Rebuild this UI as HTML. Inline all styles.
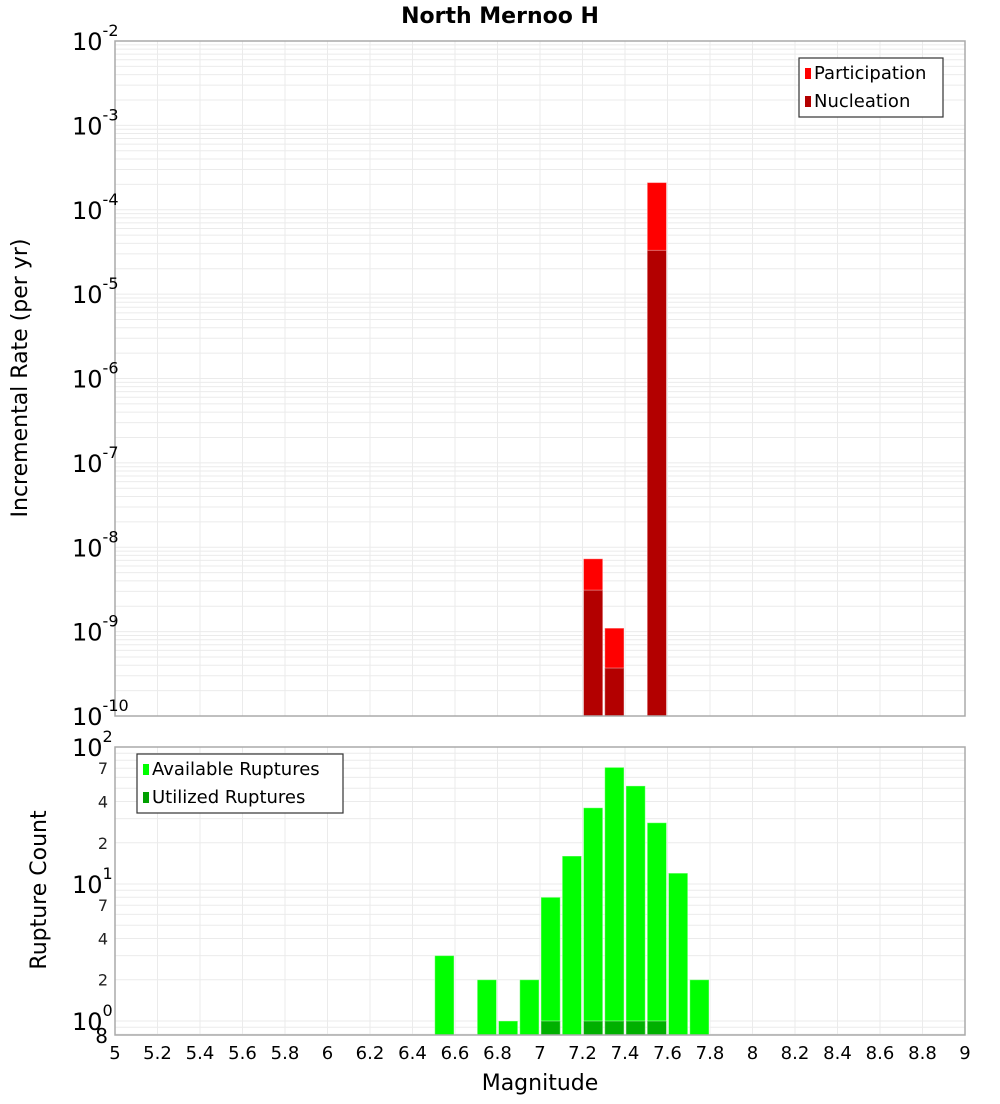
<!DOCTYPE html>
<html><head><meta charset="utf-8"><style>
body{margin:0;background:#fff;width:1000px;height:1100px;overflow:hidden;font-family:"DejaVu Sans","Liberation Sans",sans-serif}
svg text{font-family:"DejaVu Sans","Liberation Sans",sans-serif}
</style></head><body>
<svg id="chart" width="1000" height="1100" xmlns="http://www.w3.org/2000/svg">
<text x="500" y="23" text-anchor="middle" font-size="22" font-weight="bold">North Mernoo H</text>
<g id="topg"></g><g id="botg"></g>
<text transform="translate(27,378) rotate(-90)" text-anchor="middle" font-size="22">Incremental Rate (per yr)</text>
<text transform="translate(46,890) rotate(-90)" text-anchor="middle" font-size="22">Rupture Count</text>
<text x="540" y="1090" text-anchor="middle" font-size="22">Magnitude</text>
</svg>
<script>
const xTicks=[5,5.2,5.4,5.6,5.8,6,6.2,6.4,6.6,6.8,7,7.2,7.4,7.6,7.8,8,8.2,8.4,8.6,8.8,9];
const rateMags=[7.25,7.35,7.55];
const participation=[7.3e-9,1.1e-9,2.1e-4];
const nucleation=[3.1e-9,3.7e-10,3.3e-5];
const countMags=[6.55,6.75,6.85,6.95,7.05,7.15,7.25,7.35,7.45,7.55,7.65,7.75];
const available=[3,2,1,2,8,16,36,71,52,28,12,2];
const utilMags=[7.05,7.25,7.35,7.45,7.55];
const utilized=[1,1,1,1,1];
const topDecades=[-2,-3,-4,-5,-6,-7,-8,-9,-10];
const botMinorLabels=[2,4,7,20,40,70];

const NS='http://www.w3.org/2000/svg';
const L=115,R=965;
const X=v=>L+(v-5)/4*(R-L);
const T0=41,T1=716,B0=747,B1=1035;
const yTop=v=>T0+(-2-Math.log10(v))/8*(T1-T0);
const bMin=Math.log10(0.79),bMax=2;
const yBot=v=>B0+(bMax-Math.log10(v))/(bMax-bMin)*(B1-B0);
function el(p,tag,a,txt){const e=document.createElementNS(NS,tag);for(const k in a)e.setAttribute(k,a[k]);if(txt!==undefined)e.textContent=txt;p.appendChild(e);return e;}
const topG=document.getElementById('topg'),botG=document.getElementById('botg');

function grid(g,y0,y1,hlines){
  const bg=el(g,'rect',{x:L,y:y0,width:R-L,height:y1-y0,fill:'#fff'});
  
  hlines.forEach(y=>{if(y>=y0&&y<=y1){const l=el(g,'line',{x1:L,x2:R,y1:y,y2:y,stroke:'#ebebeb','stroke-width':1});}});
  xTicks.forEach(t=>{const l=el(g,'line',{x1:X(t),x2:X(t),y1:y0,y2:y1,stroke:'#ebebeb','stroke-width':1});});
}
let th=[];for(let d=-10;d<-2;d++)for(let m=1;m<10;m++)th.push(yTop(m*Math.pow(10,d)));
grid(topG,T0,T1,th);
let bh=[];for(let d=-1;d<2;d++)for(let m=1;m<10;m++)bh.push(yBot(m*Math.pow(10,d)));
grid(botG,B0,B1,bh);

function bar(g,m,v0,v1,yf,fill,name){
  const y=yf(v1),yb=yf(v0);
  const r=el(g,'rect',{x:X(m-0.05)+1,y:y,width:X(m+0.05)-X(m-0.05)-2,height:yb-y,fill:fill,stroke:'rgba(255,255,255,0.4)','stroke-width':1});
  
}
rateMags.forEach((m,i)=>{bar(topG,m,1e-10,participation[i],yTop,'#ff0000','participation-bar');});
rateMags.forEach((m,i)=>{bar(topG,m,1e-10,nucleation[i],yTop,'#b30000','nucleation-bar');});
countMags.forEach((m,i)=>{bar(botG,m,0.79,available[i],yBot,'#00ff00','available-bar');});
utilMags.forEach((m,i)=>{bar(botG,m,0.79,utilized[i],yBot,'#00b000','utilized-bar');});

const svg=document.getElementById('chart');
[[T0,T1],[B0,B1]].forEach(([a,b])=>{const r=el(svg,'rect',{x:L,y:a,width:R-L,height:b-a,fill:'none',stroke:'#aaa','stroke-width':1.5});});

topDecades.forEach(d=>{const y=yTop(Math.pow(10,d));
  const t=el(svg,'text',{x:72,y:y+9,'font-size':24});
  
  el(t,'tspan',{},'10');el(t,'tspan',{dy:-14,'font-size':16},String(d));
});
[0,1,2].forEach(d=>{const y=yBot(Math.pow(10,d));
  const t=el(svg,'text',{x:72,y:y+9,'font-size':24});
  
  el(t,'tspan',{},'10');el(t,'tspan',{dy:-14,'font-size':16},String(d));
});
botMinorLabels.forEach(v=>{const t=el(svg,'text',{x:108,y:yBot(v)+6,'text-anchor':'end','font-size':16,fill:'#222'},String(v).charAt(0));});
{const t=el(svg,'text',{x:108,y:B1+8,'text-anchor':'end','font-size':20},'8');}
xTicks.forEach(v=>{const t=el(svg,'text',{x:X(v),y:1059,'text-anchor':'middle','font-size':18},String(v));});

function legend(x,y,w,h,items,name){
  const g=el(svg,'g',{});
  el(g,'rect',{x:x,y:y,width:w,height:h,fill:'#fff',stroke:'#333','stroke-width':1.2});
  items.forEach((it,i)=>{const cy=y+15+i*28;
    const s=el(g,'rect',{x:x+6,y:cy-5,width:6,height:11,fill:it[1]});
    const t=el(g,'text',{x:x+15,y:cy+6,'font-size':18},it[0]);});
}
legend(799,58,144,59,[['Participation','#ff0000'],['Nucleation','#b30000']],'top-legend');
legend(137,754,206,59,[['Available Ruptures','#00ff00'],['Utilized Ruptures','#00a000']],'bottom-legend');
</script>
</body></html>
